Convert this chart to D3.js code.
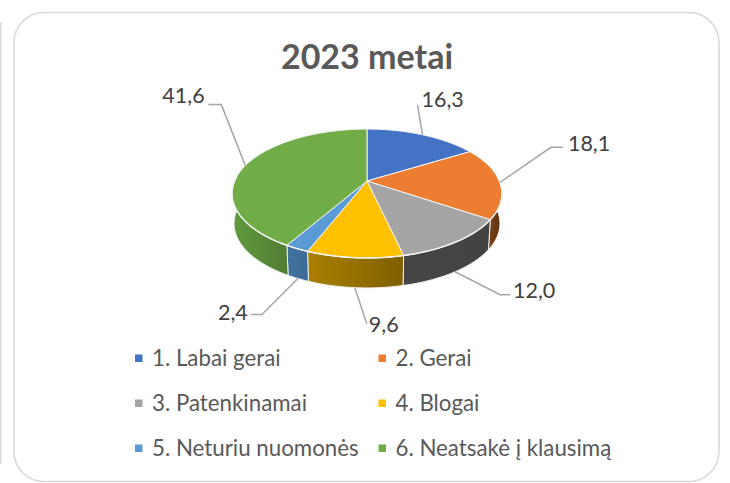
<!DOCTYPE html>
<html><head><meta charset="utf-8">
<script src="https://cdn.jsdelivr.net/npm/d3@7"></script>
<style>html,body{margin:0;padding:0;background:#fff}svg{display:block}text{font-family:Lato,"Open Sans",sans-serif}</style>
</head><body><div id="c"></div>
<script>
const title = "2023 metai";
const categories = ["1. Labai gerai","2. Gerai","3. Patenkinamai","4. Blogai","5. Neturiu nuomonės","6. Neatsakė į klausimą"];
const values = [16.3,18.1,12.0,9.6,2.4,41.6];
const valueLabels = ["16,3","18,1","12,0","9,6","2,4","41,6"];
const colors = ["#4472c4","#ed7d31","#a5a5a5","#ffc000","#5b9bd5","#70ad47"];
const wallLight = ["#2f5597","#7a4419","#454545","#ab7f00","#41719c","#609a3d"];
const wallDark = ["#203864","#5a2e0d","#434343","#7f6000","#3d6c99","#527d33"];

const W=730,H=483;
const svg=d3.select("#c").append("svg").attr("width",W).attr("height",H);
const defs=svg.append("defs");

svg.append("line").attr("x1",0.5).attr("x2",0.5).attr("y1",22).attr("y2",464).attr("stroke","#d9d9d9").attr("stroke-width",2);
svg.append("rect").attr("x",14).attr("y",12.5).attr("width",705).attr("height",469).attr("rx",30)
  .attr("fill","#fff").attr("stroke","#d9d9d9").attr("stroke-width",1.6);

svg.append("text").attr("x",367).attr("y",69).attr("text-anchor","middle")
  .attr("font-size",34).attr("font-weight",700).attr("fill","#595959").text(title);

// perspective disc
const cx=367, cy=181, R=132.4, B=62, P=0.194, DEPTH=30, SHRINK=0.985;
const proj=(a,level)=>{
  const u=Math.sin(a), v=-Math.cos(a), s=1/(1-P*v);
  const k=level?SHRINK:1;
  return [cx+R*u*s*k, cy+B*v*s+(level?DEPTH:0)];
};
const arcs=d3.pie().sort(null).value(d=>d)(values);
const line=d3.line();
const rim=(a0,a1,level)=>{
  const n=Math.max(2,Math.ceil((a1-a0)/0.02));
  return d3.range(n+1).map(i=>proj(a0+(a1-a0)*i/n,level));
};

// walls: only the near half of the disc shows them
const frontMin=Math.PI/2-0.08, frontMax=3*Math.PI/2+0.08;
arcs.forEach((d,i)=>{
  const a0=Math.max(d.startAngle,frontMin), a1=Math.min(d.endAngle,frontMax);
  if(a1<=a0) return;
  const top=rim(a0,a1,0), bot=rim(a0,a1,1).reverse();
  const xs=top.concat(bot).map(p=>p[0]);
  const id="w"+i;
  const g=defs.append("linearGradient").attr("id",id).attr("gradientUnits","userSpaceOnUse")
    .attr("x1",d3.min(xs)).attr("x2",d3.max(xs)).attr("y1",0).attr("y2",0);
  g.append("stop").attr("offset",0).attr("stop-color",wallLight[i]);
  g.append("stop").attr("offset",1).attr("stop-color",wallDark[i]);
  svg.append("path").attr("d",line(top.concat(bot))+"Z").attr("fill",`url(#${id})`)
    .attr("stroke","#eef0f0").attr("stroke-width",1).attr("stroke-linejoin","round");
});

// top face
arcs.forEach((d,i)=>{
  svg.append("path").attr("d",line([[cx,cy]].concat(rim(d.startAngle,d.endAngle,0)))+"Z")
    .attr("fill",colors[i]).attr("stroke","#f4f4f4").attr("stroke-width",1).attr("stroke-linejoin","round");
});
// lit front rim
svg.append("path").attr("d",line(rim(frontMin,frontMax,0))).attr("fill","none").attr("stroke","#f4f4f4").attr("stroke-width",1.4);

// leaders + labels (offsets from the rim anchor, per slice)
const leaderLevel=[0,0,1,1,1,0];
const leaderBends=[[[-5,-30]],[[51,-35],[63,-35]],[[45,23],[55,23]],[[12,36]],[[-36,36],[-47,36]],[[-24,-61],[-37,-61]]];
const labelAt=[[-1,-36],[68,-39],[58,18],[14,37],[-80,34],[-83,-70]];
arcs.forEach((d,i)=>{
  const a=(d.startAngle+d.endAngle)/2, p=proj(a,leaderLevel[i]);
  const pts=[p].concat(leaderBends[i].map(b=>[p[0]+b[0],p[1]+b[1]]));
  svg.append("path").attr("d",line(pts)).attr("fill","none").attr("stroke","#a6a6a6").attr("stroke-width",1.5);
  svg.append("text").attr("x",p[0]+labelAt[i][0]).attr("y",p[1]+labelAt[i][1]).attr("dy","0.36em")
    .attr("font-size",21.5).attr("fill","#404040").text(valueLabels[i]);
});

// legend
const colX=[135,378.5], rowY=[358,403,448];
categories.forEach((c,i)=>{
  const x=colX[i%2], y=rowY[Math.floor(i/2)];
  svg.append("rect").attr("x",x).attr("y",y-3.5).attr("width",7.5).attr("height",7.5).attr("fill",colors[i]);
  svg.append("text").attr("x",x+17).attr("y",y).attr("dy","0.36em").attr("font-size",22.3).attr("fill","#595959").text(c);
});
</script></body></html>
